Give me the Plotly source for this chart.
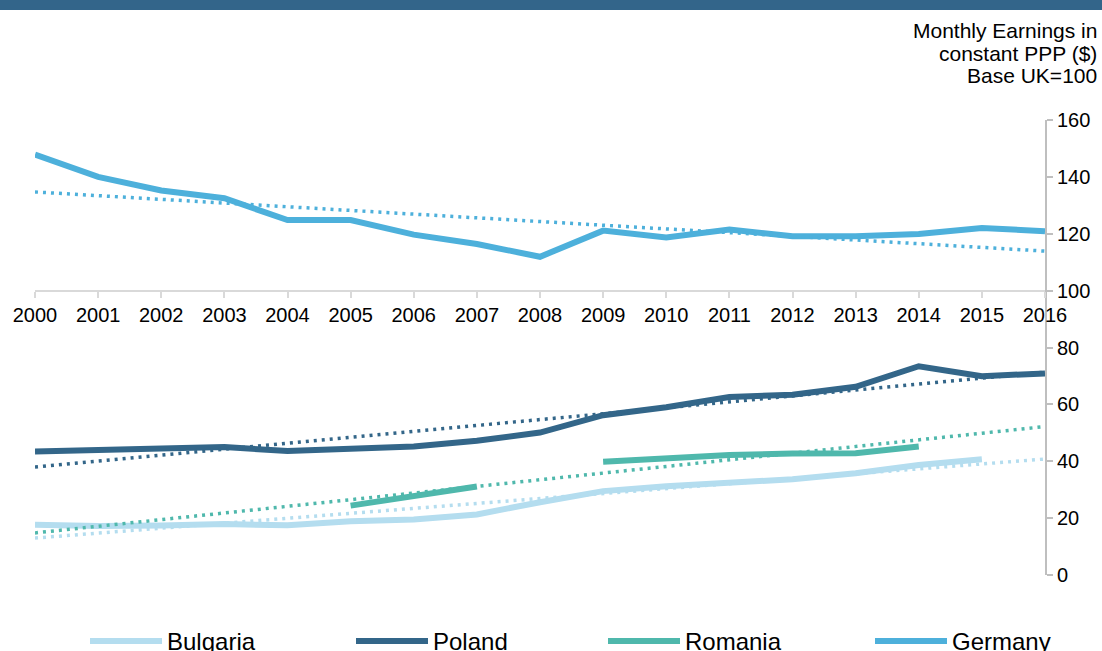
import plotly.graph_objects as go

years = list(range(2000, 2017))

germany = [147.8, 140.0, 135.2, 132.5, 124.8, 124.8, 119.7, 116.4, 111.9,
           121.1, 118.7, 121.5, 119.1, 119.1, 119.9, 122.0, 120.9]
poland = [43.4, 44.0, 44.3, 45.0, 43.6, 44.3, 45.2, 47.2, 50.1,
          56.2, 59.0, 62.6, 63.4, 66.2, 73.4, 69.9, 70.9]
romania = [None, None, None, None, None, 24.4, 27.6, 31.1, None,
           39.8, 41.0, 42.2, 42.7, 42.8, 45.2, None, None]
bulgaria = [17.7, 17.2, 17.4, 17.9, 17.5, 18.9, 19.5, 21.3, 25.6,
            29.5, 31.2, 32.3, 33.7, 35.8, 38.7, 40.7, None]

# trend line end points (2000 and 2016)
trend_years = [2000, 2016]
germany_trend = [134.7, 113.9]
poland_trend = [38.0, 71.3]
romania_trend = [14.8, 52.2]
bulgaria_trend = [13.0, 40.8]

y_ticks = [0, 20, 40, 60, 80, 100, 120, 140, 160]

C_BUL = "#B4DDEF"
C_POL = "#336689"
C_ROM = "#4FB8AC"
C_GER = "#4DB0DB"

FONT = "Liberation Sans, Arial, sans-serif"

fig = go.Figure()

series = [("Bulgaria", bulgaria, bulgaria_trend, C_BUL),
          ("Poland", poland, poland_trend, C_POL),
          ("Romania", romania, romania_trend, C_ROM),
          ("Germany", germany, germany_trend, C_GER)]

legend_ids = ["legend", "legend2", "legend3", "legend4"]
legend_left_px = [85, 351, 603, 870]

for (name, vals, tr, col), lid in zip(series, legend_ids):
    fig.add_trace(go.Scatter(x=years, y=vals, name=name, mode="lines",
                             line=dict(color=col, width=6), legend=lid,
                             connectgaps=False, hoverinfo="x+y+name"))

for name, vals, tr, col in series:
    fig.add_trace(go.Scatter(x=trend_years, y=tr, name=name + " trend", mode="lines",
                             line=dict(color=col, width=3.5, dash="3px,5px"),
                             showlegend=False))

L, R, T, B = 35, 57, 120, 76
W, H = 1102, 651
pw = W - L - R
ph = H - T - B
ymin, ymax = 0, 160

def py(pix):
    return (H - B - pix) / ph

def px(pix):
    return (pix - L) / pw

legend_common = dict(orientation="h", xref="container", yref="container",
                     xanchor="left", y=(H - 619) / H, yanchor="top",
                     font=dict(size=24, family=FONT, color="#000000"),
                     itemwidth=72, bgcolor="rgba(0,0,0,0)")

layout_legends = {}
for lid, lx in zip(legend_ids, legend_left_px):
    layout_legends[lid] = dict(legend_common, x=lx / W)

fig.update_layout(
    width=W, height=H,
    margin=dict(l=L, r=R, t=T, b=B, pad=0, autoexpand=False),
    paper_bgcolor="white", plot_bgcolor="white",
    font=dict(family=FONT, size=20, color="#000000"),
    showlegend=True,
    xaxis=dict(range=[2000, 2016], tickmode="array", tickvals=years,
               ticktext=[str(y) for y in years],
               showgrid=False, zeroline=False, showline=True,
               linecolor="#D9D9D9", linewidth=2,
               ticks="outside", ticklen=6, tickcolor="#D9D9D9", tickwidth=2,
               anchor="free", position=(100 - ymin) / (ymax - ymin),
               tickfont=dict(size=20, family=FONT, color="#000000")),
    yaxis=dict(range=[ymin, ymax], tickvals=y_ticks, side="right",
               showgrid=False, zeroline=False, showline=True,
               linecolor="#BFBFBF", linewidth=2,
               ticks="outside", ticklen=6, tickcolor="#BFBFBF", tickwidth=2,
               tickfont=dict(size=20, family=FONT, color="#000000")),
    **layout_legends,
)

# header bar
fig.add_shape(type="rect", xref="paper", yref="paper",
              x0=px(-5), x1=px(W + 5), y0=py(10), y1=py(-5),
              fillcolor="#33658A", line=dict(width=0), layer="above")

title_lines = ["Monthly Earnings in", "constant PPP ($)", "Base UK=100"]
title_pix = [30, 53, 76]
for txt, yp in zip(title_lines, title_pix):
    fig.add_annotation(text=txt, xref="paper", yref="paper", x=px(1099), y=py(yp),
                       xanchor="right", yanchor="middle", showarrow=False,
                       font=dict(size=21, family=FONT, color="#000000"))

fig.write_html("out.html", config={"displayModeBar": False},
               post_script="document.body.style.margin='0';")
